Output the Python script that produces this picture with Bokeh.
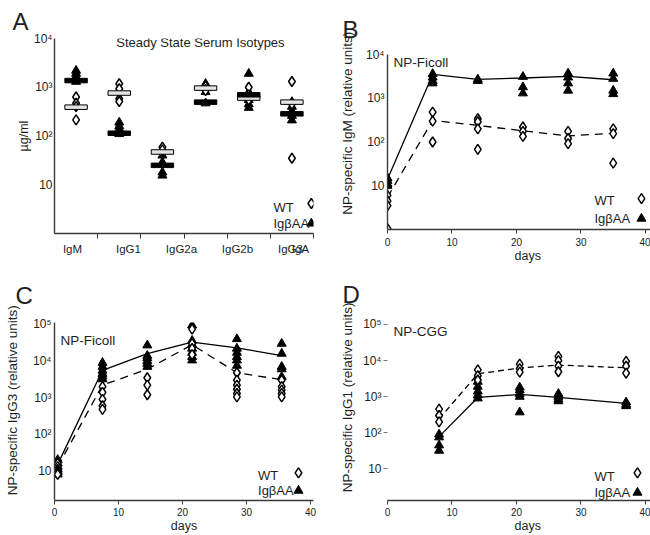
import numpy as np
from bokeh.plotting import figure
from bokeh.layouts import column, row
from bokeh.models import FixedTicker, Label, Range1d
from bokeh.embed import file_html
from bokeh.resources import INLINE

FONT = "Liberation Sans"
INK = "#1e1e1e"
AX = "#3a3a3a"
NB = "\u00a0"

# ---------------- Panel A data ----------------
a_categories = ["IgM", "IgG1", "IgG2a", "IgG2b", "IgG3", "IgA"]
a_label_x = [0.917, 2.214, 3.442, 4.739, 5.967, 6.198]
a_wt_values = [[630, 470, 400, 215], [1180, 930, 580, 510], [59, 52], [1050, 900, 850],
               [1000, 700, 550], [1310, 450, 35]]
a_wt_mean = [390, 760, 47, 960, 600, 495]
a_aa_values = [[2200, 1900, 1650, 1450, 1300], [190, 160, 140, 120, 110], [40, 29, 18, 15.5],
               [1180, 800, 470], [1900, 800, 650, 550, 450, 380], [500, 400, 320, 260, 210]]
a_aa_mean = [1370, 114, 25, 495, 700, 285]

# ---------------- Panel B data (NP-Ficoll, IgM) ----------------
b_days = [0, 7, 14, 21, 28, 35]
b_aa_mean = [14, 3500, 2700, 2900, 3150, 2650]
b_wt_mean = [5.5, 310, 240, 180, 138, 158]
b_aa_values = [[15, 13, 11, 10], [3600, 3000, 2500, 2200], [2700, 2500], [3100, 1800, 1300],
               [3700, 3000, 2200, 1500], [3700, 2800, 1500, 1250]]
b_wt_values = [[6, 4.5, 3.5, 1.05], [480, 300, 100], [340, 290, 200, 68], [220, 175, 135],
               [175, 120, 92], [200, 155, 33]]

# ---------------- Panel C data (NP-Ficoll, IgG3) ----------------
c_days = [0.5, 7.5, 14.5, 21.5, 28.5, 35.5]
c_aa_mean = [15, 5600, 16000, 33000, 23000, 14000]
c_wt_mean = [13, 2200, 6000, 28000, 4800, 3100]
c_aa_values = [[20, 16, 13, 11, 10, 9, 8], [9000, 7000, 5500, 4500, 3800, 3200],
               [27000, 14000, 12000, 10000, 8500, 7000],
               [95000, 36000, 28000, 22000, 17000, 13000, 10500],
               [40000, 22000, 17000, 13000, 10500, 7500], [30000, 16000, 7000, 6000, 3700]]
c_wt_values = [[16, 13, 11, 10, 9, 8], [2000, 1400, 900, 600, 480], [3500, 2200, 1200],
               [75000, 30000, 22000, 15000], [4800, 3000, 2200, 1700, 1300, 1050],
               [3000, 2000, 1600, 1300, 1050]]

# ---------------- Panel D data (NP-CGG, IgG1) ----------------
d_days = [8, 14, 20.5, 26.5, 37]
d_aa_mean = [78, 950, 1150, 950, 650]
d_wt_mean = [240, 4300, 6200, 7500, 6300]
d_aa_values = [[90, 75, 45, 32], [2600, 1900, 1400, 1100, 900], [1800, 1500, 1200, 1000, 370],
               [1200, 1000, 850, 750], [700, 600, 550]]
d_wt_values = [[450, 300, 200], [5500, 3800, 2900], [8000, 6000, 4800],
               [13000, 10000, 7000, 4900], [9500, 7000, 4500]]

day_ticks = [0, 10, 20, 30, 40]
pow_labels = {10: "10", 100: "10²", 1000: "10³", 10000: "10⁴", 100000: "10⁵"}


def flat(xs, groups):
    x, y = [], []
    for xi, vals in zip(xs, groups):
        x += [xi] * len(vals)
        y += list(vals)
    return x, y


def base_fig(w, h, xr, yr, left, right, top, bottom, letter, offset, standoff):
    p = figure(width=w, height=h, x_range=Range1d(*xr), y_range=Range1d(*yr),
               y_axis_type="log", output_backend="svg", toolbar_location=None,
               min_border_left=left, min_border_right=right, min_border_top=top,
               min_border_bottom=bottom)
    p.outline_line_color = None
    p.grid.grid_line_color = None
    p.background_fill_color = "white"
    p.border_fill_color = "white"
    p.title.text = letter
    p.title.align = "left"
    p.title.offset = offset
    p.title.standoff = standoff
    p.title.text_font = FONT
    p.title.text_font_size = "24px"
    p.title.text_font_style = "normal"
    p.title.text_color = INK
    for ax in p.axis:
        ax.axis_line_color = AX
        ax.axis_line_width = 1.4
        ax.major_label_text_font = FONT
        ax.major_label_text_color = INK
        ax.axis_label_text_font = FONT
        ax.axis_label_text_color = INK
        ax.axis_label_text_font_style = "normal"
        ax.minor_tick_line_color = None
        ax.major_tick_in = 0
    return p


def lab(p, x, y, text, size, align="left", baseline="middle"):
    p.add_layout(Label(x=x, y=y, text=text, text_font=FONT, text_font_size=size,
                       text_color=INK, text_align=align, text_baseline=baseline))


def legend(p, xt, yw, ya, xm, ydm, ytm):
    lab(p, xt, yw, "WT", "13px")
    lab(p, xt, ya, "IgβAA", "13px")
    p.scatter([xm], [ydm], marker="diamond", size=10, fill_color="white",
              line_color="black", line_width=1.5)
    p.scatter([xm], [ytm], marker="triangle", size=9, fill_color="black",
              line_color="black")


def points(p, xs, wt_groups, aa_groups):
    ax_, ay_ = flat(xs, aa_groups)
    p.scatter(ax_, ay_, marker="triangle", size=9, fill_color="black", line_color="black")
    wx, wy = flat(xs, wt_groups)
    p.scatter(wx, wy, marker="diamond", size=10, fill_color="white", line_color="black",
              line_width=1.5)


def log_yaxis(p, ticks, label, label_standoff, size="12px", standoff=3, tick_out=0):
    ya = p.yaxis[0]
    ya.ticker = FixedTicker(ticks=ticks, minor_ticks=[])
    ya.major_label_overrides = {t: pow_labels[t] for t in ticks}
    ya.major_label_text_font_size = size
    ya.major_label_standoff = standoff
    ya.major_tick_out = tick_out
    if tick_out == 0:
        ya.major_tick_line_color = None
    ya.axis_label = label
    ya.axis_label_text_font_size = "13.5px"
    ya.axis_label_standoff = label_standoff


def day_xaxis(p, standoff, label_standoff, label):
    xa = p.xaxis[0]
    xa.ticker = FixedTicker(ticks=day_ticks, minor_ticks=[])
    xa.major_label_text_font_size = "10px"
    xa.major_tick_out = 4
    xa.major_tick_line_color = AX
    xa.major_label_standoff = standoff
    xa.axis_label = label
    xa.axis_label_text_font_size = "12.5px"
    xa.axis_label_standoff = label_standoff


# ================= Panel A =================
pA = base_fig(325, 265, (0.5, 6.5), (1, 1e4), 54, 12, 38, 32, "A", -42, 7)
cat_x = list(range(1, len(a_categories) + 1))
points(pA, cat_x, a_wt_values, a_aa_values)
pA.rect(cat_x, a_wt_mean, width=0.52, height=4.5, height_units="screen",
        fill_color="#e4e4e4", line_color="black", line_width=1)
pA.rect(cat_x, a_aa_mean, width=0.52, height=4.5, height_units="screen",
        fill_color="black", line_color="black")
log_yaxis(pA, [10, 100, 1000, 10000], "µg/ml", 0, size="12px", standoff=2)
pA.yaxis[0].axis_label_text_font_size = "12.5px"
xa = pA.xaxis[0]
xa.ticker = FixedTicker(ticks=a_label_x, minor_ticks=[1.5, 2.5, 3.5, 4.5, 5.5, 6.5])
xa.major_label_overrides = {x: c for x, c in zip(a_label_x, a_categories)}
xa.major_tick_line_color = None
xa.major_tick_out = 0
xa.minor_tick_line_color = AX
xa.minor_tick_out = 5
xa.minor_tick_in = 0
xa.major_label_standoff = 4
xa.major_label_text_font_size = "11.5px"
lab(pA, 3.88, 10 ** 3.918, "Steady State Serum Isotypes", "13px", align="center")
legend(pA, 5.573, 10 ** 0.533, 10 ** 0.205, 6.45, 10 ** 0.615, 10 ** 0.205)

# ================= Panel B =================
pB = base_fig(325, 265, (0, 40.78), (1, 1e4), 62, 0, 54, 35, "B", -45, 23)
pB.line(b_days, b_aa_mean, line_color="black", line_width=1.3)
pB.line(b_days, b_wt_mean, line_color="black", line_width=1.3, line_dash="8 6")
points(pB, b_days, b_wt_values, b_aa_values)
log_yaxis(pB, [10, 100, 1000, 10000], NB * 10 + "NP-specific IgM (relative units)", 8,
          size="12px", standoff=3)
day_xaxis(pB, 4, 0, NB * 5 + "days")
lab(pB, 0.93, 10 ** 3.818, "NP-Ficoll", "13.5px")
legend(pB, 32.09, 10 ** 0.659, 10 ** 0.25, 39.38, 10 ** 0.705, 10 ** 0.25)

# ================= Panel C =================
pC = base_fig(325, 270, (0, 40.47), (10 ** 0.189, 10 ** 5.054), 54, 12, 57, 33, "C", -39, 27)
pC.line(c_days, c_aa_mean, line_color="black", line_width=1.3)
pC.line(c_days, c_wt_mean, line_color="black", line_width=1.3, line_dash="8 6")
points(pC, c_days, c_wt_values, c_aa_values)
log_yaxis(pC, [10, 100, 1000, 10000, 100000], NB * 6 + "NP-specific IgG3 (relative units)",
          10, size="12px", standoff=3)
day_xaxis(pC, 3, 0, "days")
lab(pC, 0.94, 10 ** 4.567, "NP-Ficoll", "13.5px")
legend(pC, 31.8, 10 ** 0.865, 10 ** 0.459, 38.125, 10 ** 0.946, 10 ** 0.459)

# ================= Panel D =================
pD = base_fig(325, 270, (0, 40.78), (10 ** 0.123, 10 ** 5.11), 62, 0, 55, 33, "D", -45, 25)
pD.line(d_days, d_aa_mean, line_color="black", line_width=1.3)
pD.line(d_days, d_wt_mean, line_color="black", line_width=1.3, line_dash="6 4")
points(pD, d_days, d_wt_values, d_aa_values)
log_yaxis(pD, [10, 100, 1000, 10000, 100000], NB * 7 + "NP-specific IgG1 (relative units)",
          5, size="12px", standoff=2, tick_out=4)
pD.yaxis[0].axis_line_color = None
pD.yaxis[0].major_tick_line_color = "#777777"
day_xaxis(pD, 3, 0, NB * 5 + "days")
lab(pD, 0.93, 10 ** 4.808, "NP-CGG", "13.5px")
legend(pD, 32.09, 10 ** 0.78, 10 ** 0.342, 38.76, 10 ** 0.89, 10 ** 0.342)

layout = row(column(pA, pC), column(pB, pD))
open("out.html", "w").write(file_html(layout, INLINE))
